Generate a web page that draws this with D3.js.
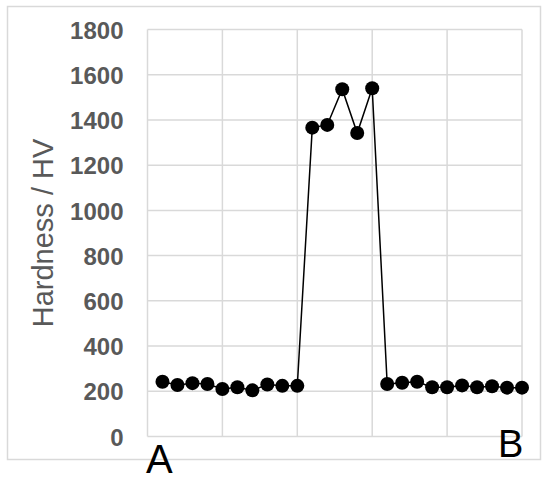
<!DOCTYPE html>
<html><head><meta charset="utf-8">
<script src="https://cdn.jsdelivr.net/npm/d3@7"></script>
<style>body{margin:0;background:#fff}svg{display:block}</style>
</head><body>
<script>
const positions = d3.range(1, 26);
const hardness = [242, 228, 236, 232, 210, 218, 204, 230, 224, 224,
                  1366, 1378, 1536, 1342, 1540,
                  232, 238, 242, 218, 218, 226, 218, 222, 216, 216];
const yTicks = [0, 200, 400, 600, 800, 1000, 1200, 1400, 1600, 1800];
const xGrid = [0, 5, 10, 15, 20, 25];
const endLabels = ["A", "B"];
const yTitle = "Hardness / HV";

const W = 550, H = 483;
const svg = d3.select("body").append("svg").attr("width", W).attr("height", H);
svg.append("rect").attr("x", 7.5).attr("y", 6.5).attr("width", 533).attr("height", 453)
  .attr("fill", "#fff").attr("stroke", "#d9d9d9").attr("stroke-width", 1.5);

const m = {l: 147.5, r: 522, t: 29.5, b: 436.5};
const x = d3.scaleLinear().domain([0, 25]).range([m.l, m.r]);
const y = d3.scaleLinear().domain([0, 1800]).range([m.b, m.t]);

const g = svg.append("g");
g.selectAll(".hg").data(yTicks).join("line")
  .attr("x1", m.l).attr("x2", m.r).attr("y1", d => y(d)).attr("y2", d => y(d))
  .attr("stroke", "#d9d9d9").attr("stroke-width", 1.5);
g.selectAll(".vg").data(xGrid).join("line")
  .attr("y1", m.t).attr("y2", m.b).attr("x1", d => x(d)).attr("x2", d => x(d))
  .attr("stroke", "#d9d9d9").attr("stroke-width", 1.5);

const yAxis = d3.axisLeft(y).tickValues(yTicks).tickFormat(d3.format("d")).tickSize(0).tickPadding(24);
const ya = svg.append("g").attr("transform", `translate(${m.l},0)`).call(yAxis);
ya.select(".domain").remove();
ya.selectAll("text").attr("font-family", "Liberation Sans, Arial, sans-serif")
  .attr("font-size", 24).attr("font-weight", "bold").attr("fill", "#595959").attr("dy", "0.36em");

svg.append("text").attr("transform", `translate(53,233) rotate(-90)`)
  .attr("text-anchor", "middle").attr("font-family", "Liberation Sans, Arial, sans-serif")
  .attr("font-size", 29).attr("fill", "#595959").text(yTitle);

const pts = positions.map((p, i) => [p, hardness[i]]);
svg.append("path").datum(pts)
  .attr("d", d3.line().x(d => x(d[0])).y(d => y(d[1])))
  .attr("fill", "none").attr("stroke", "#000").attr("stroke-width", 1.5);
svg.selectAll(".pt").data(pts).join("circle")
  .attr("cx", d => x(d[0])).attr("cy", d => y(d[1])).attr("r", 7).attr("fill", "#000");

svg.append("text").attr("x", 146).attr("y", 473).attr("font-family", "Liberation Sans, Arial, sans-serif")
  .attr("font-size", 40).attr("fill", "#000").text(endLabels[0]);
svg.append("text").attr("x", 498).attr("y", 457).attr("font-family", "Liberation Sans, Arial, sans-serif")
  .attr("font-size", 38).attr("fill", "#000").text(endLabels[1]);
</script>
</body></html>
